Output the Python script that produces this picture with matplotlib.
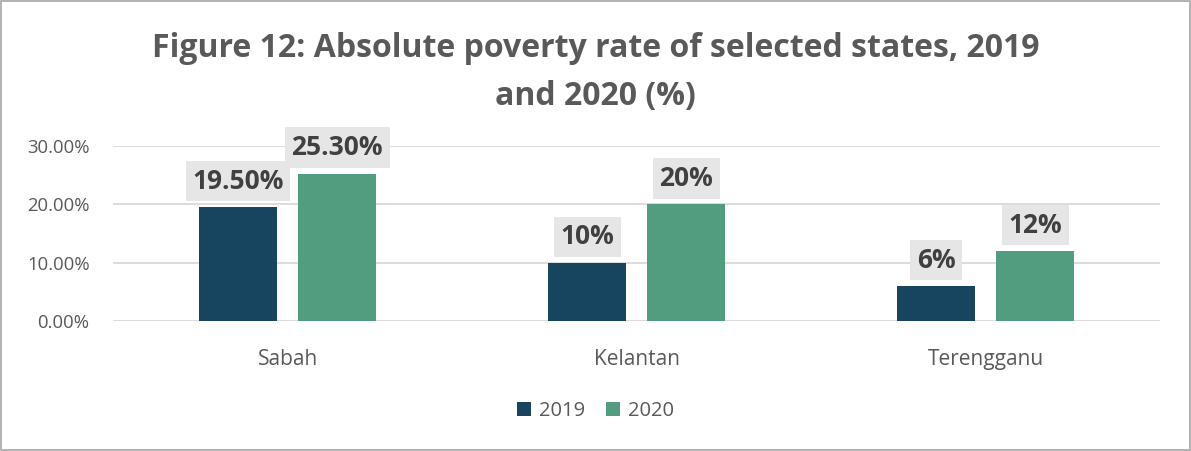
import numpy as np
import matplotlib.pyplot as plt
from matplotlib.patches import Rectangle

states = ["Sabah", "Kelantan", "Terengganu"]
rate_2019 = [19.5, 10, 6]
rate_2020 = [25.3, 20, 12]
labels_2019 = ["19.50%", "10%", "6%"]
labels_2020 = ["25.30%", "20%", "12%"]
yticks = [0, 10, 20, 30]

c19 = "#17445e"
c20 = "#529d80"
txt = "#595959"

plt.rcParams['font.family'] = ['Open Sans', 'DejaVu Sans']

fig = plt.figure(figsize=(11.91, 4.51), dpi=100)
ax = fig.add_axes([0.095, 0.288, 0.879, 0.388])

x = np.arange(len(states))
w = 0.223
off = 0.142
b1 = ax.bar(x - off, rate_2019, w, color=c19, label="2019", zorder=3)
b2 = ax.bar(x + off, rate_2020, w, color=c20, label="2020", zorder=3)

for bars, labs in ((b1, labels_2019), (b2, labels_2020)):
    for rect, lab in zip(bars, labs):
        ax.annotate(lab, (rect.get_x() + rect.get_width() / 2, rect.get_height()),
                    xytext=(0, 9), textcoords="offset points", ha="center", va="bottom",
                    fontsize=19, fontweight="bold", color="#404040", zorder=5,
                    bbox=dict(boxstyle="square,pad=0.25", fc="#e7e6e6", ec="none"))

ax.set_xlim(-0.5, 2.5)
ax.set_ylim(0, 30)
ax.set_yticks(yticks)
ax.set_yticklabels([f"{v:.2f}%" for v in yticks], fontsize=13.3, color=txt)
ax.set_xticks(x)
ax.set_xticklabels(states, fontsize=15, color=txt)
ax.tick_params(length=0, pad=17)
ax.tick_params(axis="x", pad=20)
ax.grid(axis="y", color="#d9d9d9", lw=1.3, zorder=0)
for s in ax.spines.values():
    s.set_visible(False)

fig.text(0.5, 0.93, "Figure 12: Absolute poverty rate of selected states, 2019\nand 2020 (%)",
         ha="center", va="top", fontsize=23, fontweight="bold", color=txt, linespacing=1.6)

fig.legend(loc="center", bbox_to_anchor=(0.5, 0.088), ncol=2, frameon=False,
           fontsize=14.5, handlelength=0.7, handleheight=0.7, columnspacing=1.0,
           handletextpad=0.4, labelcolor=txt)

fig.patches.append(Rectangle((0.001, 0.002), 0.998, 0.996, transform=fig.transFigure,
                             fill=False, ec="#a6a6a6", lw=1.2))

fig.savefig("out.png", dpi=100)
